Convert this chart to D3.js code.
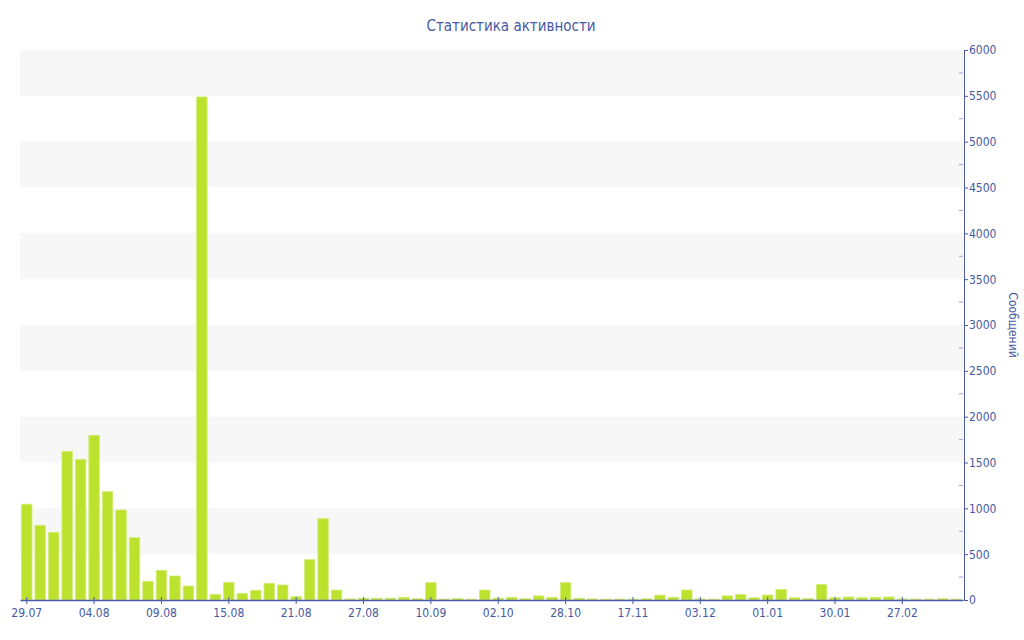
<!DOCTYPE html>
<html>
<head>
<meta charset="utf-8">
<script src="https://cdn.jsdelivr.net/npm/d3@7"></script>
<style>
  body { margin: 0; background: #fff; }
  text { font-family: "DejaVu Sans Condensed", "DejaVu Sans", Verdana, sans-serif; }
</style>
</head>
<body>
<div id="chart"></div>
<script>
// messages per period, one bar each
var values = [1045, 815, 738, 1622, 1535, 1797, 1182, 982, 680, 204, 324, 262, 153, 5488,
  62, 193, 73, 106, 182, 164, 36, 440, 887, 109,
  12, 20, 20, 20, 30, 15, 190, 10, 15, 10, 109, 20, 30, 15, 45, 30, 190, 20, 12, 10, 10, 10, 15, 53,
  30, 109, 12, 10, 45, 60, 25, 55, 116, 25, 18, 170, 25, 33, 25, 30, 33, 12, 10, 10, 15, 10];

// a label is shown under every fifth bar
var tickLabels = ["29.07", "04.08", "09.08", "15.08", "21.08", "27.08", "10.09",
  "02.10", "28.10", "17.11", "03.12", "01.01", "30.01", "27.02"];
var tickStep = 5;

var yTicks = [0, 500, 1000, 1500, 2000, 2500, 3000, 3500, 4000, 4500, 5000, 5500, 6000];

var margin = {top: 50, right: 61, bottom: 40, left: 20},
    width = 1024 - margin.left - margin.right,
    height = 640 - margin.top - margin.bottom;

var axisColor = "#4a5aa6",
    textColor = "#4759a3";

var svg = d3.select("#chart").append("svg")
    .attr("width", 1024)
    .attr("height", 640);

svg.append("text")
    .attr("x", 511)
    .attr("y", 31)
    .attr("text-anchor", "middle")
    .attr("fill", textColor)
    .style("font-size", "15px")
    .text("Статистика активности");

var g = svg.append("g")
    .attr("transform", "translate(" + margin.left + "," + margin.top + ")");

var x = d3.scaleBand()
    .domain(d3.range(values.length))
    .range([0, width])
    .paddingInner(0.22)
    .paddingOuter(0.11);

var y = d3.scaleLinear()
    .domain([0, 6000])
    .range([height, 0]);

// alternating bands
var bands = d3.range(0, 6000, 500).filter(function(v) { return (v / 500) % 2 == 1; });
g.selectAll(".band").data(bands).enter()
  .append("rect")
    .attr("class", "band")
    .attr("x", 0)
    .attr("width", width)
    .attr("y", function(d) { return y(d + 500); })
    .attr("height", function(d) { return y(d) - y(d + 500); })
    .attr("fill", "#f7f7f7");

g.selectAll(".bar").data(values).enter()
  .append("rect")
    .attr("class", "bar")
    .attr("x", function(d, i) { return x(i); })
    .attr("width", x.bandwidth())
    .attr("y", function(d) { return y(d); })
    .attr("height", function(d) { return height - y(d); })
    .attr("fill", "#bde22e")
    .attr("stroke", "#d4ec7c")
    .attr("stroke-width", 0.8);

// x axis
var xAxis = d3.axisBottom(x)
    .tickValues(d3.range(0, values.length, tickStep))
    .tickFormat(function(d) { return tickLabels[d / tickStep]; })
    .tickSize(4)
    .tickSizeOuter(0)
    .tickPadding(4);

var gx = g.append("g")
    .attr("transform", "translate(0," + height + ")")
    .call(xAxis);
gx.select(".domain").attr("stroke", axisColor).attr("stroke-width", 1.5);
gx.selectAll(".tick line").attr("stroke", axisColor).attr("y1", -3);
gx.selectAll(".tick text").attr("fill", textColor).style("font-size", "12px");

// right y axis, minor ticks inside
var minor = d3.range(250, 6000, 500);
g.selectAll(".minor").data(minor).enter()
  .append("line")
    .attr("class", "minor")
    .attr("x1", width - 4)
    .attr("x2", width)
    .attr("y1", function(d) { return y(d); })
    .attr("y2", function(d) { return y(d); })
    .attr("stroke", "#9aa3cc");

var yAxis = d3.axisRight(y)
    .tickValues(yTicks)
    .tickFormat(d3.format("d"))
    .tickSize(4)
    .tickSizeOuter(0)
    .tickPadding(1);

var gy = g.append("g")
    .attr("transform", "translate(" + (width + 1) + ",0)")
    .call(yAxis);
gy.select(".domain").attr("stroke", axisColor);
gy.selectAll(".tick line").attr("stroke", axisColor);
gy.selectAll(".tick text").attr("fill", textColor).style("font-size", "12px");

gy.append("text")
    .attr("transform", "translate(45," + height / 2 + ") rotate(90)")
    .attr("text-anchor", "middle")
    .attr("fill", textColor)
    .style("font-size", "12px")
    .text("Сообщений");
</script>
</body>
</html>
